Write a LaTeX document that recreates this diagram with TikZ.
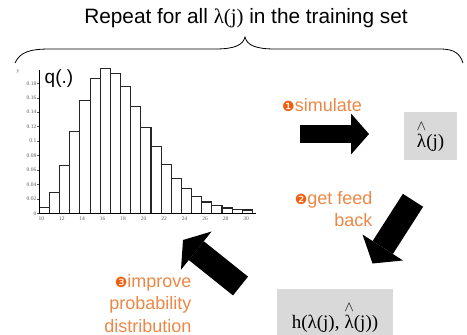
\documentclass[tikz,border=0pt]{standalone}
\usepackage{fontspec}
\usepackage{amsmath}
\setmainfont{Liberation Sans}
\newfontfamily\serif{Liberation Serif}
\newfontfamily\dingfont{DejaVu Sans}
\usetikzlibrary{arrows.meta}

\definecolor{labelorange}{RGB}{236,135,70}
\definecolor{numorange}{RGB}{240,95,15}
\definecolor{boxgrey}{RGB}{217,217,217}
\definecolor{tickgrey}{RGB}{90,90,90}

\newcommand\lhat{\ensuremath{\overset{\wedge}{\mbox{λ}}}}
\newcommand\stepno[1]{{\dingfont\fontsize{14}{14}\selectfont\color{numorange}#1}}

\begin{document}
\begin{tikzpicture}[x=1pt, y=-1pt,
        bar/.style={draw=black!85, line width=1.1pt},
        tick/.style={font=\serif\fontsize{5.5}{6}\selectfont, text=tickgrey, inner sep=0pt},
        steptext/.style={text=labelorange, font=\fontsize{18}{22.4}\selectfont, align=right, inner sep=0pt},
        greybox/.style={fill=boxgrey, inner sep=0pt, font=\serif\fontsize{19}{22}\selectfont},
        fatarrow/.style args={#1/#2/#3}{line width=#1pt, -{Triangle[length=#3pt, width=#2pt, line width=0pt]}}]
    \useasboundingbox (0,0) rectangle (467,335);

    % title and brace
    \node[font=\fontsize{20.8}{25}\selectfont, inner sep=0pt] (title) at (246,18.5) {Repeat for all {\serif λ(j)} in the training set};
    \draw[line width=0.8pt] (15,63) .. controls (20,52) and (30,49) .. (50,49) -- (215,49)
        .. controls (235,49) and (243,45) .. (245,37) .. controls (247,45) and (255,49) .. (275,49)
        -- (440,49) .. controls (455,49) and (460,54) .. (463,63);

    % histogram q(.)
    \foreach \h [count=\i from 0] in {6,20.7,48,82,113,135,145,140,127,107,86,67,49,35,25,17,11.3,8,5.3,4,3.3}
        \draw[bar] ({39.3+\i*10.15},213.3) rectangle ++(10.15,-\h);
    \draw[line width=0.9pt] (39.3,213.3) -- (39.3,70);
    \draw[line width=0.9pt] (39.3,213.3) -- (256,213.3);
    \foreach \v [count=\k from 0] in {0,0.02,0.04,0.06,0.08,0.1,0.12,0.14,0.16,0.18} {
        \draw[tickgrey] (37.3,{213.3-\k*14.45}) -- (39.3,{213.3-\k*14.45});
        \node[tick, anchor=east] (ytick\k) at (36.5,{213.3-\k*14.45}) {\v};
    }
    \foreach \v [count=\k from 0] in {10,12,14,16,18,20,22,24,26,28,30}
        \node[tick, anchor=north] (xtick\k) at ({41.3+\k*20.47},216.5) {\v};
    \node[tick] (ylabel) at (18,72) {y};
    \node[font=\fontsize{19}{19}\selectfont, inner sep=0pt] (q) at (59,79) {q(.)};

    % outputs
    \node[greybox, minimum width=53pt, minimum height=48pt] (simout) at (430.5,136) {\lhat(j)};
    \node[greybox, minimum width=115.4pt, minimum height=56pt] (score) at (335,317.3) {\raisebox{3pt}{h(λ(j), \lhat(j))}};

    % steps
    \node[steptext, anchor=north east] (simulate) at (362,98.5) {\stepno{❶}simulate};
    \node[steptext, anchor=north east] (feedback) at (372.7,191) {\stepno{❷}get feed\\back};
    \node[steptext, anchor=north east] (improve) at (191.7,274) {\stepno{❸}improve\\probability\\distribution};

    \coordinate (simTail) at (300,134);
    \coordinate (simTip) at (369,134);
    \coordinate (fbTail) at (413,200.3);
    \coordinate (fbTip) at (372.5,263.5);
    \coordinate (impTail) at (240.5,286);
    \coordinate (impTip) at (183,240);
    \draw[fatarrow=18/41/18] (simTail) -- (simTip);
    \draw[fatarrow=24/48/19] (fbTail) -- (fbTip);
    \draw[fatarrow=24/49/17] (impTail) -- (impTip);
\end{tikzpicture}
\end{document}
